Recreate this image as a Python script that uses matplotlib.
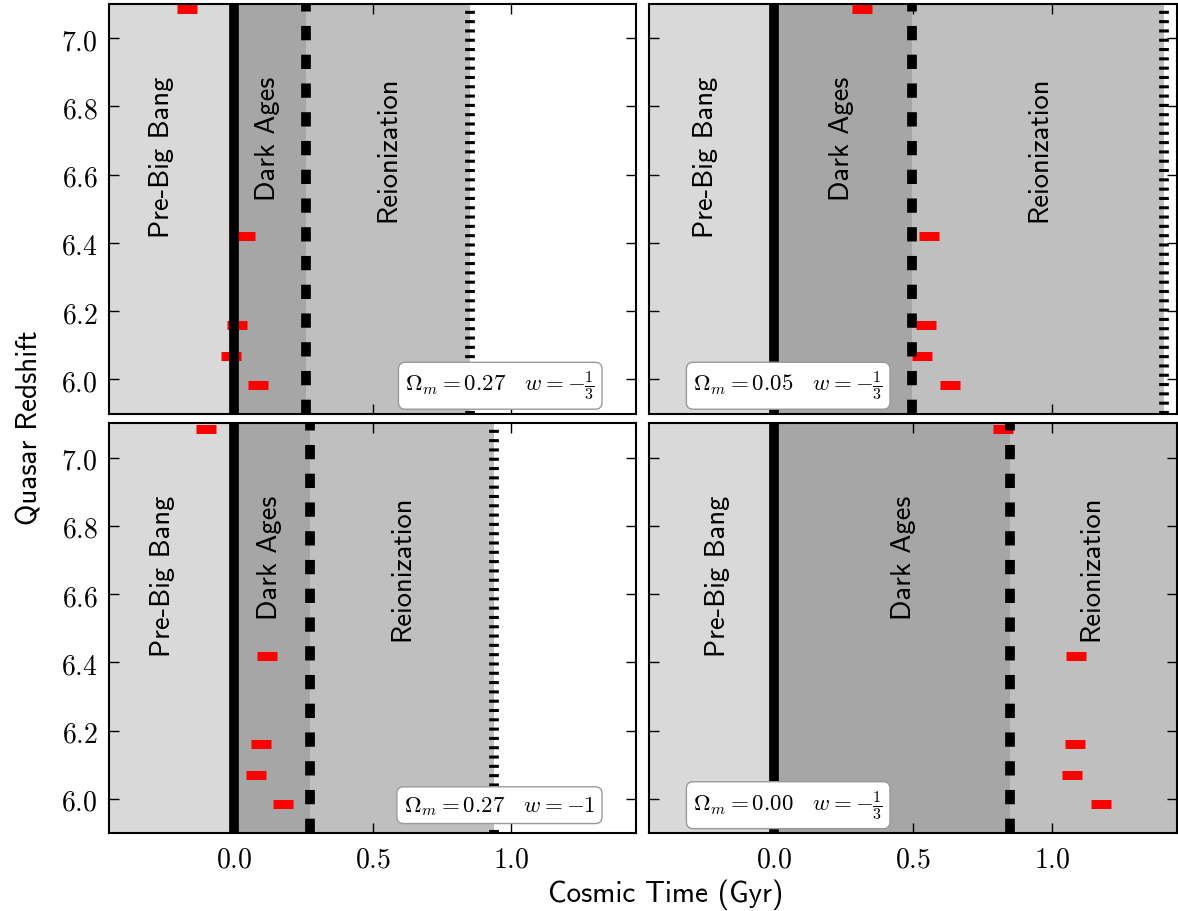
import numpy as np
import matplotlib.pyplot as plt
from matplotlib.ticker import FuncFormatter, MultipleLocator

plt.rcParams['mathtext.fontset'] = 'cm'
plt.rcParams['lines.scale_dashes'] = False

# quasar redshifts (same five objects in every panel)
z_qso = [7.085, 6.42, 6.16, 6.07, 5.985]

# cosmic time of each quasar in each cosmology (Gyr)
t_qso = [
    [-0.169, 0.040, 0.010, -0.010, 0.086],   # Om=0.27, w=-1/3
    [0.314, 0.558, 0.545, 0.532, 0.634],     # Om=0.05, w=-1/3
    [-0.102, 0.119, 0.096, 0.079, 0.177],    # Om=0.27, w=-1
    [0.822, 1.088, 1.084, 1.074, 1.178],     # Om=0.00, w=-1/3
]

# end of dark ages (dashed) and end of reionization (dotted)
t_dark_end = [0.260, 0.496, 0.273, 0.850]
t_reion_end = [0.852, 1.403, 0.939, 1.60]

cosmo_labels = [r'$\Omega_m = 0.27 \quad w = -\frac{1}{3}$',
                r'$\Omega_m = 0.05 \quad w = -\frac{1}{3}$',
                r'$\Omega_m = 0.27 \quad w = -1$',
                r'$\Omega_m = 0.00 \quad w = -\frac{1}{3}$']

# where the era names sit
x_pre = [-0.26, -0.248, -0.256, -0.205]
x_dark = [0.121, 0.241, 0.128, 0.467]
x_reion = [0.554, 0.953, 0.607, 1.142]

fig, axes = plt.subplots(2, 2, figsize=(11.78, 9.12), dpi=100, sharex=True, sharey=True)
fig.subplots_adjust(left=0.0925, right=0.999, top=0.9945, bottom=0.0855, wspace=0.025, hspace=0.024)

fmt = FuncFormatter(lambda v, p: r'$%.1f$' % (v + 0.0))

for i, ax in enumerate(axes.flat):
    td = t_dark_end[i]
    tr = t_reion_end[i]
    ax.axvspan(-1, 0, color='#d9d9d9', lw=0, zorder=0)
    ax.axvspan(0, td, color='#a6a6a6', lw=0, zorder=0)
    ax.axvspan(td, tr, color='#bfbfbf', lw=0, zorder=0)

    ax.plot(t_qso[i], z_qso, ls='none', marker='_', ms=14.2, mew=6.5, color='red', zorder=2)

    ax.axvline(0, color='k', lw=7, zorder=3)
    ax.axvline(td, color='k', lw=7, dashes=(10.3, 10.4), zorder=3)
    ax.axvline(tr, color='k', lw=7, dashes=(2.2, 4.5), zorder=3)

    tt = ax.get_xaxis_transform()
    for xx, name in zip([x_pre[i], x_dark[i], x_reion[i]], ['Pre-Big Bang', 'Dark Ages', 'Reionization']):
        ax.text(xx, 0.826, name, transform=tt, rotation=90, ha='center', va='top',
                fontsize=20.5, family='cmss10')

    if i % 2 == 0:
        ax.text(0.922, 0.068, cosmo_labels[i], transform=ax.transAxes, ha='right', va='center',
                fontsize=16.5, zorder=5,
                bbox=dict(boxstyle='round,pad=0.3', fc='white', ec='0.6', lw=1))
    else:
        ax.text(0.083, 0.068, cosmo_labels[i], transform=ax.transAxes, ha='left', va='center',
                fontsize=16.5, zorder=5,
                bbox=dict(boxstyle='round,pad=0.3', fc='white', ec='0.6', lw=1))

    ax.set_xlim(-0.45, 1.45)
    ax.set_ylim(5.9, 7.1)
    ax.xaxis.set_major_locator(MultipleLocator(0.5))
    ax.yaxis.set_major_locator(MultipleLocator(0.2))
    ax.xaxis.set_major_formatter(fmt)
    ax.yaxis.set_major_formatter(fmt)
    ax.tick_params(direction='in', length=7, width=1, top=True, right=True, labelsize=20, pad=8)
    for s in ax.spines.values():
        s.set_linewidth(1.5)
        s.set_zorder(6)

fig.text(0.0255, 0.531, 'Quasar Redshift', rotation=90, ha='center', va='center',
         fontsize=21, family='cmss10')
fig.text(0.565, 0.0185, 'Cosmic Time (Gyr)', ha='center', va='center',
         fontsize=21, family='cmss10')

fig.savefig('out.png', dpi=100)
